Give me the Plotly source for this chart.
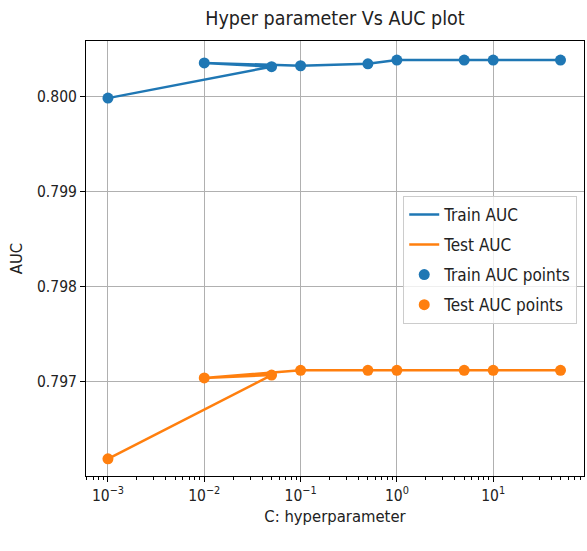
import plotly.graph_objects as go

# Data (in the order the values were evaluated)
C_values = [0.001, 0.05, 0.01, 0.1, 0.5, 1, 5, 10, 50]
train_auc = [0.79998, 0.80031, 0.80035, 0.80032, 0.80034, 0.80038, 0.80038, 0.80038, 0.80038]
test_auc = [0.79619, 0.79707, 0.79704, 0.79712, 0.79712, 0.79712, 0.79712, 0.79712, 0.79712]

x_tick_vals = [0.001, 0.01, 0.1, 1, 10]
x_tick_text = ["10<sup>\u22123</sup>", "10<sup>\u22122</sup>", "10<sup>\u22121</sup>",
               "10<sup>0</sup>", "10<sup>1</sup>"]
y_tick_vals = [0.797, 0.798, 0.799, 0.800]

BLUE = "#1f77b4"
ORANGE = "#ff7f0e"
FONT = "DejaVu Sans Condensed, DejaVu Sans"

minor_vals = [m * 10 ** e for e in range(-4, 2) for m in range(2, 10)]

fig = go.Figure()
fig.add_trace(go.Scatter(x=C_values, y=train_auc, mode="lines", name="Train AUC",
                         line=dict(color=BLUE, width=2.5), legendgroup="a"))
fig.add_trace(go.Scatter(x=C_values, y=test_auc, mode="lines", name="Test AUC",
                         line=dict(color=ORANGE, width=2.5), legendgroup="b"))
fig.add_trace(go.Scatter(x=C_values, y=train_auc, mode="markers", name="Train AUC points",
                         marker=dict(color=BLUE, size=11), legendgroup="c"))
fig.add_trace(go.Scatter(x=C_values, y=test_auc, mode="markers", name="Test AUC points",
                         marker=dict(color=ORANGE, size=11), legendgroup="d"))

axis_common = dict(showline=True, linecolor="black", linewidth=1, mirror=True,
                   ticks="outside", ticklen=5, tickcolor="black",
                   showgrid=True, gridcolor="#b0b0b0", gridwidth=1,
                   zeroline=False, automargin=False,
                   tickfont=dict(family=FONT, size=15.5, color="#222"))

fig.update_layout(
    width=587, height=551,
    paper_bgcolor="white", plot_bgcolor="white",
    margin=dict(l=86, r=3, t=41, b=75),
    font=dict(family=FONT, size=15.5, color="#222"),
    title=dict(text="Hyper parameter Vs AUC plot", x=(86 + 584) / 2 / 587, xanchor="center",
               y=1 - 18 / 551, yanchor="middle", font=dict(family=FONT, size=19.5, color="#222")),
    xaxis=dict(type="log", range=[-3.228, 1.943], tickvals=x_tick_vals, ticktext=x_tick_text,
               title=dict(text="C: hyperparameter", font=dict(family=FONT, size=16.5), standoff=6),
               minor=dict(tickvals=minor_vals, ticks="outside", ticklen=3, tickcolor="black",
                          showgrid=False),
               **axis_common),
    yaxis=dict(range=[0.79601, 0.80058], tickvals=y_tick_vals, tickformat=".3f",
               title=dict(text="AUC", font=dict(family=FONT, size=16.5), standoff=10),
               **axis_common),
    legend=dict(x=0.637, y=0.644, xanchor="left", yanchor="top",
                bgcolor="rgba(255,255,255,0.8)", bordercolor="#cccccc", borderwidth=1,
                font=dict(family=FONT, size=17, color="#222"),
                traceorder="grouped", tracegroupgap=5),
    showlegend=True,
)

fig.write_html("out.html", config={"displayModeBar": False},
               post_script="document.body.style.margin='0';document.body.style.overflow='hidden';")
